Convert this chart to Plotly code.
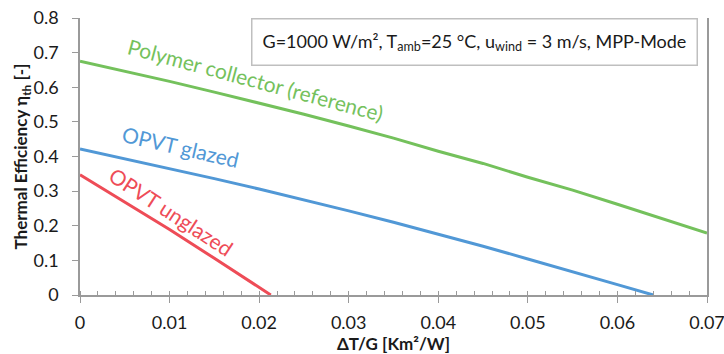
import plotly.graph_objects as go

# Data
x_polymer = [0, 0.005, 0.01, 0.015, 0.02, 0.025, 0.03, 0.035, 0.04, 0.045, 0.05, 0.055, 0.06, 0.065, 0.07]
eta_polymer = [0.675, 0.647, 0.617, 0.586, 0.555, 0.522, 0.488, 0.453, 0.415, 0.380, 0.340, 0.303, 0.262, 0.221, 0.179]

x_glazed = [0, 0.005, 0.01, 0.015, 0.02, 0.025, 0.03, 0.035, 0.04, 0.045, 0.05, 0.055, 0.06, 0.064]
eta_glazed = [0.422, 0.394, 0.366, 0.336, 0.306, 0.275, 0.243, 0.210, 0.176, 0.141, 0.104, 0.068, 0.030, 0.0]

x_unglazed = [0, 0.005, 0.01, 0.015, 0.02, 0.0213]
eta_unglazed = [0.347, 0.268, 0.189, 0.106, 0.021, 0.0]

x_ticks = [0, 0.01, 0.02, 0.03, 0.04, 0.05, 0.06, 0.07]
y_ticks = [0, 0.1, 0.2, 0.3, 0.4, 0.5, 0.6, 0.7, 0.8]

GREEN = "#74C15C"
BLUE = "#5198D6"
RED = "#EE4C57"
AXIS = "#9A9A9A"
FONT = "Lato, 'Open Sans', sans-serif"

fig = go.Figure()
fig.add_trace(go.Scatter(x=x_polymer, y=eta_polymer, mode="lines",
                         line=dict(color=GREEN, width=3), name="Polymer collector (reference)"))
fig.add_trace(go.Scatter(x=x_glazed, y=eta_glazed, mode="lines",
                         line=dict(color=BLUE, width=3), name="OPVT glazed"))
fig.add_trace(go.Scatter(x=x_unglazed, y=eta_unglazed, mode="lines",
                         line=dict(color=RED, width=3), name="OPVT unglazed"))

fig.update_layout(
    width=724, height=354,
    margin=dict(l=80, r=17, t=18, b=59),
    paper_bgcolor="white", plot_bgcolor="white",
    showlegend=False,
    font=dict(family=FONT, color="#1a1a1a", size=18),
    xaxis=dict(
        range=[0, 0.07], tickvals=x_ticks, showgrid=False, zeroline=False,
        automargin=False, ticklabeloverflow="allow",
        showline=True, linecolor=AXIS, linewidth=1.5,
        ticks="outside", ticklen=6, tickcolor=AXIS, tickwidth=1.2,
        tickfont=dict(size=18), ticklabelstandoff=5,
        minor=dict(ticks="inside", dtick=0.002, ticklen=4, tickcolor=AXIS, tickwidth=1, showgrid=False),
        title=dict(text="<b>ΔT/G [Km²/W]</b>", font=dict(size=17), standoff=0),
    ),
    yaxis=dict(
        range=[0, 0.8], tickvals=y_ticks, showgrid=False, zeroline=False,
        automargin=False, ticklabeloverflow="allow",
        showline=True, linecolor=AXIS, linewidth=1.5, mirror=True,
        ticks="outside", ticklen=6, tickcolor=AXIS, tickwidth=1.2,
        tickfont=dict(size=18), ticklabelstandoff=10,
        title=dict(text="<b>Thermal Efficiency η<sub>th</sub> [-]</b>", font=dict(size=17), standoff=1),
    ),
)

fig.add_annotation(x=0.0196, y=0.622, xref="x", yref="y", text="Polymer collector (reference)",
                   showarrow=False, textangle=15, font=dict(size=21, color=GREEN))
fig.add_annotation(x=0.01123, y=0.428, xref="x", yref="y", text="OPVT glazed",
                   showarrow=False, textangle=13, font=dict(size=21, color=BLUE))
fig.add_annotation(x=0.0102, y=0.241, xref="x", yref="y", text="OPVT unglazed",
                   showarrow=False, textangle=33, font=dict(size=21, color=RED))

fig.add_annotation(
    x=0.629, y=0.9117, xref="paper", yref="paper", xanchor="center", yanchor="middle",
    text="G=1000 W/m², T<sub>amb</sub>=25 °C, u<sub>wind</sub> = 3 m/s, MPP-Mode",
    showarrow=False, font=dict(size=18, color="#1a1a1a"),
    bordercolor="#BFBFBF", borderwidth=1.5, borderpad=10, bgcolor="white",
)

fig.write_html("out.html")
